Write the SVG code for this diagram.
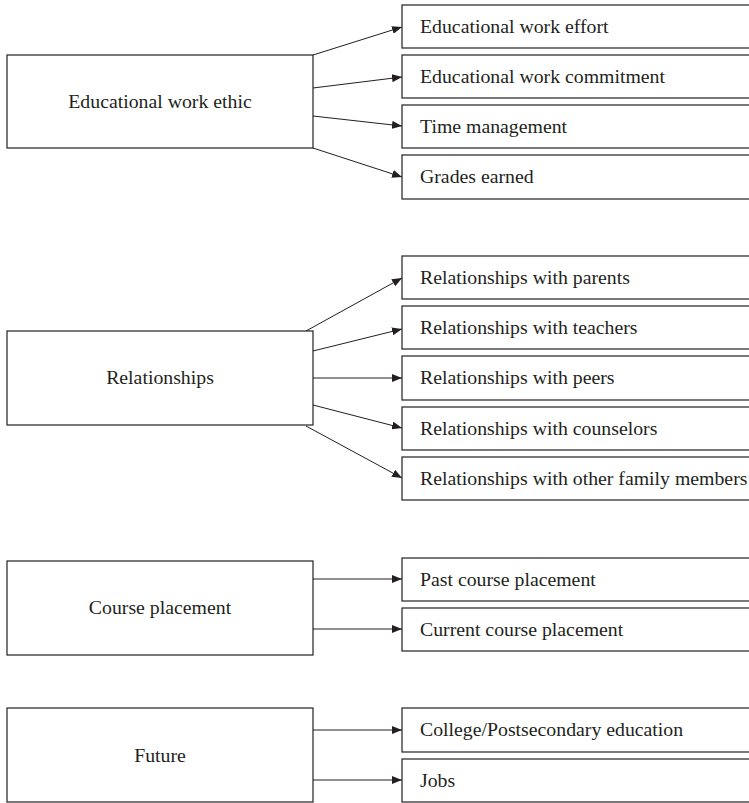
<svg xmlns="http://www.w3.org/2000/svg" width="749" height="803" viewBox="0 0 749 803">
<defs>
<marker id="ah" markerWidth="10" markerHeight="8" refX="10" refY="4" orient="auto" markerUnits="userSpaceOnUse">
<path d="M0,0 L10,4 L0,8 Z" fill="#231f20"/>
</marker>
</defs>
<style>
.b{fill:#fff;stroke:#231f20;stroke-width:1.2}
.t{font-family:"Liberation Serif",serif;font-size:19.8px;fill:#231f20}
.m{text-anchor:middle}
.c{stroke:#231f20;stroke-width:1;fill:none;marker-end:url(#ah)}
</style>
<rect width="749" height="803" fill="#fff"/>
<g id="connectors">
<line class="c" x1="313" y1="55" x2="402" y2="27"/>
<line class="c" x1="313" y1="88" x2="402" y2="77"/>
<line class="c" x1="313" y1="116" x2="402" y2="126"/>
<line class="c" x1="313" y1="148" x2="402" y2="177"/>
<line class="c" x1="306" y1="331" x2="402" y2="278"/>
<line class="c" x1="313" y1="351" x2="402" y2="329"/>
<line class="c" x1="313" y1="378" x2="402" y2="378"/>
<line class="c" x1="313" y1="405" x2="402" y2="428"/>
<line class="c" x1="306" y1="426" x2="402" y2="478"/>
<line class="c" x1="313" y1="579" x2="402" y2="579"/>
<line class="c" x1="313" y1="629" x2="402" y2="629"/>
<line class="c" x1="313" y1="730" x2="402" y2="730"/>
<line class="c" x1="313" y1="780" x2="402" y2="780"/>
</g>
<g id="n-ethic"><rect class="b" x="7" y="55" width="306" height="93"/><text class="t m" x="160" y="108">Educational work ethic</text></g>
<g id="n-effort"><rect class="b" x="402" y="5" width="350" height="43"/><text class="t" x="420" y="33">Educational work effort</text></g>
<g id="n-commit"><rect class="b" x="402" y="55" width="350" height="43"/><text class="t" x="420" y="83">Educational work commitment</text></g>
<g id="n-time"><rect class="b" x="402" y="105" width="350" height="43"/><text class="t" x="420" y="133">Time management</text></g>
<g id="n-grades"><rect class="b" x="402" y="155" width="350" height="44"/><text class="t" x="420" y="183">Grades earned</text></g>

<g id="n-rel"><rect class="b" x="7" y="331" width="306" height="94"/><text class="t m" x="160" y="384">Relationships</text></g>
<g id="n-parents"><rect class="b" x="402" y="256" width="350" height="43"/><text class="t" x="420" y="284">Relationships with parents</text></g>
<g id="n-teachers"><rect class="b" x="402" y="306" width="350" height="43"/><text class="t" x="420" y="334">Relationships with teachers</text></g>
<g id="n-peers"><rect class="b" x="402" y="356" width="350" height="44"/><text class="t" x="420" y="384">Relationships with peers</text></g>
<g id="n-couns"><rect class="b" x="402" y="407" width="350" height="43"/><text class="t" x="420" y="435">Relationships with counselors</text></g>
<g id="n-family"><rect class="b" x="402" y="457" width="350" height="43"/><text class="t" x="420" y="485">Relationships with other family members</text></g>

<g id="n-course"><rect class="b" x="7" y="561" width="306" height="94"/><text class="t m" x="160" y="614">Course placement</text></g>
<g id="n-past"><rect class="b" x="402" y="558" width="350" height="43"/><text class="t" x="420" y="586">Past course placement</text></g>
<g id="n-current"><rect class="b" x="402" y="608" width="350" height="43"/><text class="t" x="420" y="636">Current course placement</text></g>

<g id="n-future"><rect class="b" x="7" y="708" width="306" height="94"/><text class="t m" x="160" y="762">Future</text></g>
<g id="n-college"><rect class="b" x="402" y="708" width="350" height="44"/><text class="t" x="420" y="736">College/Postsecondary education</text></g>
<g id="n-jobs"><rect class="b" x="402" y="759" width="350" height="43"/><text class="t" x="420" y="787">Jobs</text></g>
</svg>
